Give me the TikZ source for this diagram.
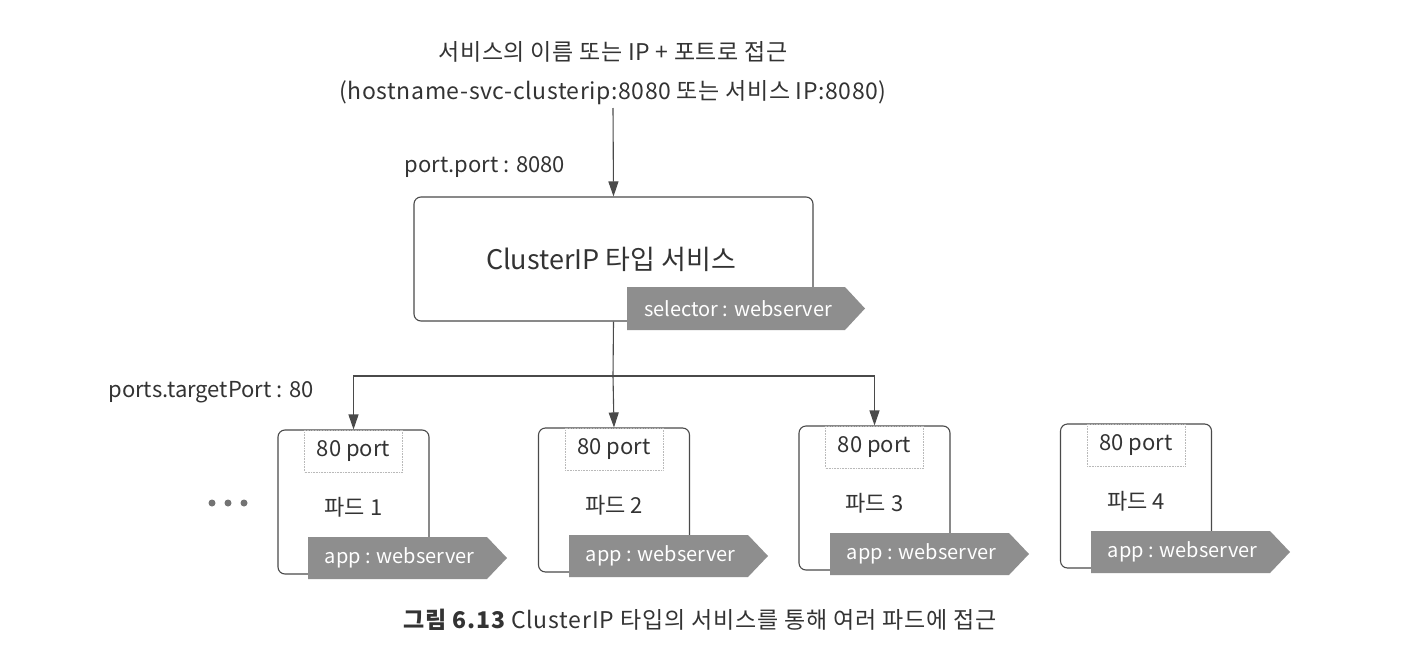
\documentclass[tikz,border=0pt]{standalone}
\usepackage{fontspec}
\setmainfont{Noto Sans CJK KR}
\usetikzlibrary{arrows.meta}
\definecolor{linecol}{HTML}{4A4A4A}
\definecolor{txtcol}{HTML}{333333}
\definecolor{tagcol}{HTML}{8E8E8E}
\tikzset{
  lbl/.style={text=txtcol, inner sep=0pt, font=\fontsize{22}{26}\selectfont},
  svcbox/.style={draw=linecol, line width=1.1pt, rounded corners=7pt, fill=white,
    minimum width=399pt, minimum height=124pt, inner sep=0pt},
  podbox/.style={draw=linecol, line width=1.1pt, rounded corners=7pt, fill=white,
    minimum width=151pt, minimum height=144pt, inner sep=0pt},
  portbox/.style={draw=gray!55, densely dotted, line width=0.6pt, minimum width=98pt,
    minimum height=42pt, inner sep=0pt, text=txtcol, font=\fontsize{22}{26}\selectfont},
  tagtext/.style={text=white, inner sep=0pt, font=\fontsize{20}{24}\selectfont},
  conn/.style={draw=linecol, line width=1.1pt},
  arr/.style={conn, -{Triangle[length=15pt,width=10pt]}},
}
% name, left x, top y, body width, height, text
\newcommand\mytag[6]{%
  \fill[tagcol] (#2,#3) -- ++(#4,0) -- ++(20,{#5/2}) -- ++(-20,{#5/2}) -- ++(-#4,0) -- cycle;
  \node[tagtext] (#1) at ({#2+#4/2+2},{#3+#5/2}) {#6};
}
\begin{document}
\begin{tikzpicture}[x=1pt,y=-1pt]
\useasboundingbox (0,0) rectangle (1408,656);
\fill[white] (0,0) rectangle (1408,656);

% title
\node[lbl, align=center, font=\fontsize{23}{39}\selectfont\addfontfeatures{LetterSpace=2.5}] (title) at (613,73)
  {서비스의 이름 또는 IP + 포트로 접근\\(hostname-svc-clusterip:8080 또는 서비스 IP:8080)};
\node[lbl] (pplabel) at (485,167) {port.port : 8080};

% service
\node[svcbox] (svc) at (613.5,259) {};
\node[text=txtcol, inner sep=0pt, font=\fontsize{27}{32}\selectfont] (svctext) at (611,259) {ClusterIP 타입 서비스};
\mytag{seltag}{627}{287}{218}{43}{selector : webserver}

\draw[arr] (613,108) -- (svc.north);

% pods
\node[podbox] (pod1) at (353.5,502) {};
\node[podbox] (pod2) at (614,500) {};
\node[podbox] (pod3) at (874.5,498) {};
\node[podbox] (pod4) at (1136,496) {};

\coordinate (junc) at (613,376);
\draw[conn] (svc.south) -- (junc);
\draw[arr] (junc) -| (pod1.north);
\draw[arr] (junc) -- (pod2.north);
\draw[arr] (junc) -| (pod3.north);

\node[lbl] (tplabel) at (211,392) {ports.targetPort : 80};

\foreach \i/\x/\y in {1/353.5/430, 2/614/428, 3/874.5/426, 4/1136/424} {
  \node[portbox] (port\i) at (\x,\y+21) {80 port};
  \node[lbl] (podname\i) at (\x,\y+77) {파드 \i};
}
\mytag{tag1}{308}{537}{179}{42}{app : webserver}
\mytag{tag2}{569}{535}{179}{42}{app : webserver}
\mytag{tag3}{830}{533}{179}{42}{app : webserver}
\mytag{tag4}{1091}{531}{179}{42}{app : webserver}

% dots
\foreach \x in {212,228,244} \fill[gray!90!black] (\x,503) circle (3.5);

% caption
\node[lbl, font=\fontsize{23}{27}\selectfont\addfontfeatures{LetterSpace=3.5}] (caption) at (700,620)
  {{\bfseries 그림 6.13} ClusterIP 타입의 서비스를 통해 여러 파드에 접근};
\end{tikzpicture}
\end{document}
